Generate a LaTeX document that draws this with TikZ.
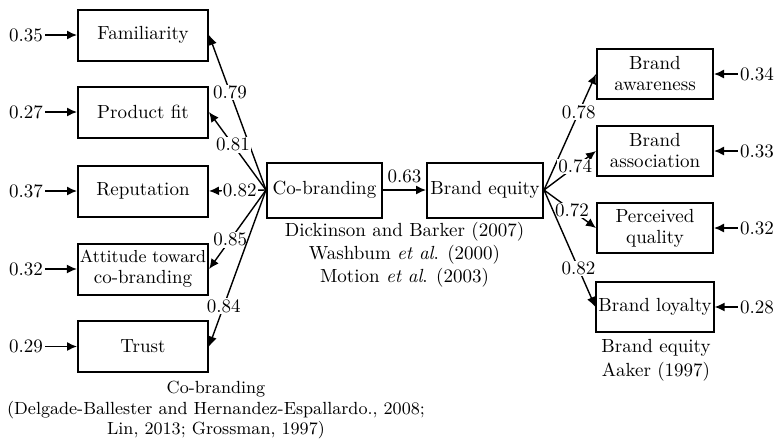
\documentclass[tikz,border=0pt]{standalone}
\usetikzlibrary{arrows.meta}

\begin{document}
\begin{tikzpicture}[x=0.5pt,y=-0.5pt,
		font=\fontsize{9.5}{10.5}\selectfont,
		box/.style={draw,line width=1pt,minimum width=65pt,minimum height=25.5pt,align=center,inner sep=1pt},
		rbox/.style={box,minimum width=58pt,minimum height=25pt},
		link/.style={-{Latex[length=5pt,width=4.5pt]},line width=0.7pt},
		coef/.style={fill=white,inner sep=0.6pt}]
		
		\useasboundingbox (0,0) rectangle (782,446);
		
		\node (cb) at (324.5,190) [box,minimum width=57.5pt,minimum height=27.5pt] {Co-branding};
		\node (be) at (485,190) [box,minimum width=58pt,minimum height=27.5pt] {Brand equity};
		\draw[link] (cb) -- (be) node[midway,above] {0.63};
		
		% co-branding dimensions
		\foreach \n/\y/\t/\e/\p/\w in {fam/35/Familiarity/0.35/0.63/0.79, pf/112/Product fit/0.27/0.58/0.81, rep/191/Reputation/0.37/0.46/0.82, att/269/{\fontsize{8.7}{10.5}\selectfont Attitude toward\\co-branding}/0.32/0.63/0.85, tru/346.5/Trust/0.29/0.74/0.84} {
			\node (\n) at (143,\y) [box] {\t};
			\node (e\n) at (26,\y) [inner sep=1pt] {\e};
			\draw[link] (e\n) -- (\n);
			\draw[link] (cb.west) -- (\n.east) node[pos=\p,coef] {\w};
		}
		
		% brand equity dimensions
		\foreach \n/\y/\t/\e/\p/\w in {aw/74/{Brand\\awareness}/0.34/0.67/0.78, as/151/{Brand\\association}/0.33/0.6/0.74, pq/228/{Perceived\\quality}/0.32/0.54/0.72, bl/307/Brand loyalty/0.28/0.67/0.82} {
			\node (\n) at (655,\y) [rbox] {\t};
			\node (e\n) at (757,\y) [inner sep=1pt] {\e};
			\draw[link] (e\n) -- (\n);
			\draw[link] (be.east) -- (\n.west) node[pos=\p,coef] {\w};
		}
		
		\node (src) at (404.5,255) [align=center,font=\fontsize{9.5}{11.5}\selectfont] {Dickinson and Barker (2007)\\Washbum \textit{et al}. (2000)\\Motion \textit{et al}. (2003)};
		\node (srcbe) at (656,360) [align=center,font=\fontsize{9.5}{12}\selectfont] {Brand equity\\Aaker (1997)};
		\node (srccb) at (216,410) [align=center,font=\fontsize{8.8}{10.2}\selectfont] {Co-branding\\(Delgade-Ballester and Hernandez-Espallardo., 2008;\\Lin, 2013; Grossman, 1997)};
		
	\end{tikzpicture}
\end{document}
